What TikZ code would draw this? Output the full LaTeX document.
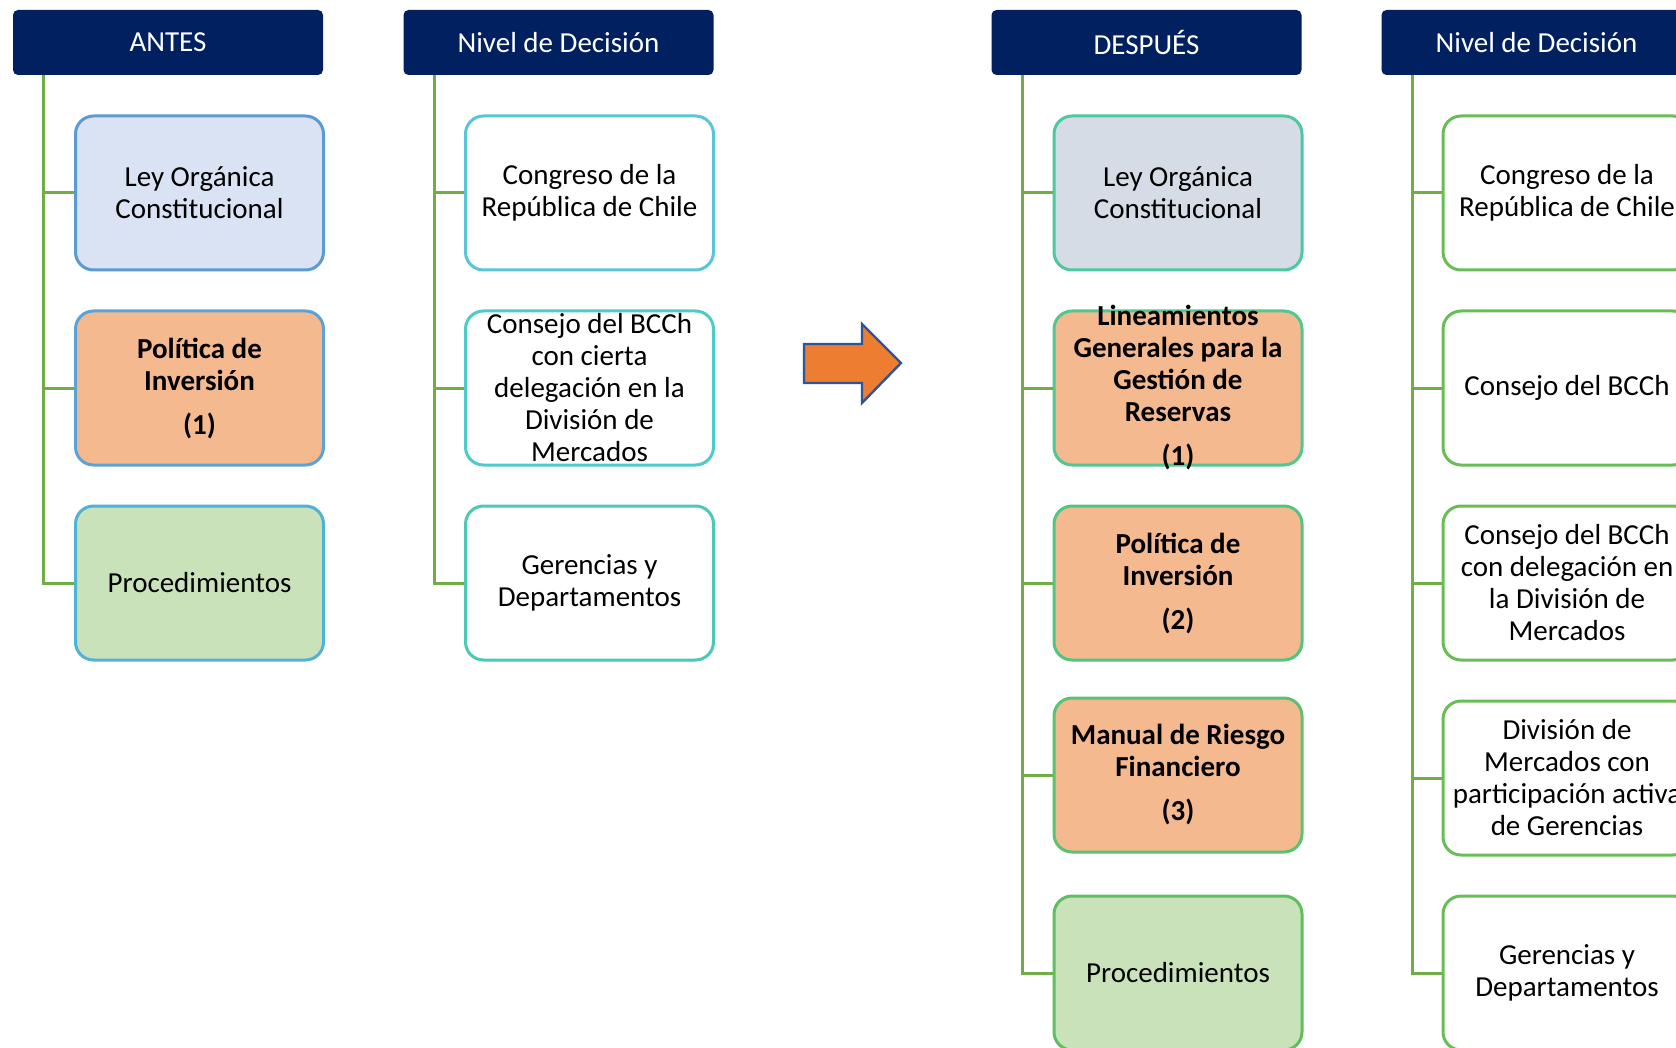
\documentclass[tikz,border=0pt]{standalone}
\usepackage{fontspec}
\setmainfont{Carlito}
\definecolor{navy}{HTML}{002060}
\definecolor{lineGreen}{HTML}{70AD47}
\definecolor{lightBlue}{HTML}{DAE3F3}
\definecolor{greyBlue}{HTML}{D6DCE5}
\definecolor{peach}{HTML}{F4B98F}
\definecolor{paleGreen}{HTML}{C9E2B9}
\definecolor{arrowOrange}{HTML}{ED7D31}
\definecolor{arrowBlue}{HTML}{2F5597}
\definecolor{bA1}{HTML}{5B9BD5}
\definecolor{bA2}{HTML}{5BA3D6}
\definecolor{bA3}{HTML}{50B2D4}
\definecolor{bB1}{HTML}{58C5D8}
\definecolor{bB2}{HTML}{4ECBC9}
\definecolor{bB3}{HTML}{4CC9B5}
\definecolor{bC1}{HTML}{4CC99E}
\definecolor{bC2}{HTML}{50C891}
\definecolor{bC3}{HTML}{52C680}
\definecolor{bC4}{HTML}{5AC270}
\definecolor{bC5}{HTML}{5FBF5E}
\definecolor{bD}{HTML}{68BE55}
\newcommand\boxfont{\fontsize{14.5}{16}\selectfont}
\begin{document}
\begin{tikzpicture}[x=0.5pt,y=-0.5pt,
  hdr/.style={fill=navy, rounded corners=2.5pt, minimum width=155pt, minimum height=32.5pt,
    text=white, font=\boxfont, inner sep=0pt},
  card/.style={draw=#1, rounded corners=9pt, line width=1.5pt, minimum width=124pt,
    minimum height=77pt, inner sep=0pt},
  txt/.style={align=center, font=\boxfont, inner sep=0pt, text=black},
  btxt/.style={align=center, font=\boxfont\bfseries, inner sep=0pt, text=black},
  conn/.style={draw=lineGreen, line width=1.5pt}]
\useasboundingbox (0,0) rectangle (1676,1048);
\clip (0,0) rectangle (1676,1048);
\fill[white] (0,0) rectangle (1676,1048);

% headers
\node[hdr] (hA) at (168,42.5) {ANTES};
\node[hdr] (hB) at (558.5,42.5) {Nivel de Decisión};
\node[hdr] (hC) at (1146.5,42.5) {DESPUÉS};
\node[hdr] (hD) at (1536.5,42.5) {Nivel de Decisión};

% connector tops
\coordinate (tA) at (43,75);
\coordinate (tB) at (434,75);
\coordinate (tC) at (1022,75);
\coordinate (tD) at (1412,75);

% ANTES column
\node[card=bA1, fill=lightBlue] (a1) at (199.5,193) {};
\node[card=bA2, fill=peach] (a2) at (199.5,388) {};
\node[card=bA3, fill=paleGreen] (a3) at (199.5,583) {};
\node[txt] (a1t) at (a1) {Ley Orgánica\\Constitucional};
\node[btxt] (a2t) at (a2) {Política de\\Inversión\\[6pt](1)};
\node[txt] (a3t) at (a3) {Procedimientos};

% Nivel left
\node[card=bB1, fill=white] (b1) at (589.5,193) {};
\node[card=bB2, fill=white] (b2) at (589.5,388) {};
\node[card=bB3, fill=white] (b3) at (589.5,583) {};
\node[txt] (b1t) at (b1) {Congreso de la\\República de Chile};
\node[txt] (b2t) at (b2) {Consejo del BCCh\\con cierta\\delegación en la\\División de\\Mercados};
\node[txt] (b3t) at (b3) {Gerencias y\\Departamentos};

% DESPUES column
\node[card=bC1, fill=greyBlue] (c1) at (1178,193) {};
\node[card=bC2, fill=peach] (c2) at (1178,388) {};
\node[card=bC3, fill=peach] (c3) at (1178,583) {};
\node[card=bC4, fill=peach] (c4) at (1178,775) {};
\node[card=bC5, fill=paleGreen] (c5) at (1178,973) {};
\node[txt] (c1t) at (c1) {Ley Orgánica\\Constitucional};
\node[btxt] (c2t) at (c2) {Lineamientos\\Generales para la\\Gestión de\\Reservas\\[6pt](1)};
\node[btxt] (c3t) at (c3) {Política de\\Inversión\\[6pt](2)};
\node[btxt] (c4t) at (c4) {Manual de Riesgo\\Financiero\\[6pt](3)};
\node[txt] (c5t) at (c5) {Procedimientos};

% Nivel right
\node[card=bD, fill=white] (d1) at (1567,193) {};
\node[card=bD, fill=white] (d2) at (1567,388) {};
\node[card=bD, fill=white] (d3) at (1567,583) {};
\node[card=bD, fill=white] (d4) at (1567,778) {};
\node[card=bD, fill=white] (d5) at (1567,973) {};
\node[txt] (d1t) at (d1) {Congreso de la\\República de Chile};
\node[txt] (d2t) at (d2) {Consejo del BCCh};
\node[txt] (d3t) at (d3) {Consejo del BCCh\\con delegación en\\la División de\\Mercados};
\node[txt] (d4t) at (d4) {División de\\Mercados con\\participación activa\\de Gerencias};
\node[txt] (d5t) at (d5) {Gerencias y\\Departamentos};

% connectors
\foreach \n in {a1,a2,a3} \draw[conn] (tA) |- (\n.west);
\foreach \n in {b1,b2,b3} \draw[conn] (tB) |- (\n.west);
\foreach \n in {c1,c2,c3,c4,c5} \draw[conn] (tC) |- (\n.west);
\foreach \n in {d1,d2,d3,d4,d5} \draw[conn] (tD) |- (\n.west);

% arrow
\filldraw[fill=arrowOrange, draw=arrowBlue, line width=1.2pt, line join=miter]
  (804,344) -- (862,344) -- (862,324) -- (901,363) -- (862,403) -- (862,383) -- (804,383) -- cycle;
\end{tikzpicture}
\end{document}
